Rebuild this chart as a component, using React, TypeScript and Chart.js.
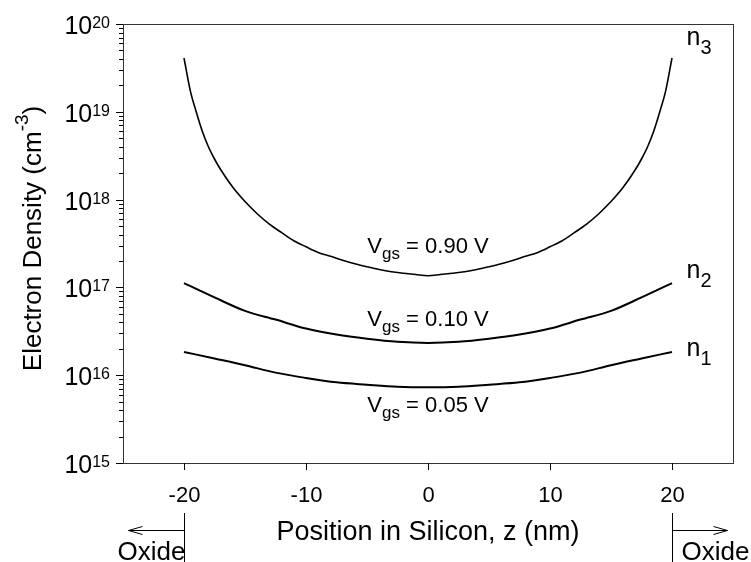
import React, { useEffect, useRef } from "react";
import { Chart, registerables } from "chart.js";

Chart.register(...registerables);

// ---- data ----
const Z_N3 = [-20, -19.5, -19, -18.5, -18, -17.5, -17, -16, -15, -14, -13, -12, -11, -10, -9, -8, -7, -6, -5, -4, -3, -2, -1, 0, 1, 2, 3, 4, 5, 6, 7, 8, 9, 10, 11, 12, 13, 14, 15, 16, 17, 17.5, 18, 18.5, 19, 19.5, 20];
const N3 = [4.1e19, 1.78e19, 1.0e19, 6.0e18, 4.0e18, 2.9e18, 2.2e18, 1.38e18, 9.5e17, 6.9e17, 5.25e17, 4.2e17, 3.4e17, 2.9e17, 2.5e17, 2.26e17, 2.04e17, 1.86e17, 1.72e17, 1.6e17, 1.51e17, 1.45e17, 1.4e17, 1.36e17, 1.4e17, 1.45e17, 1.51e17, 1.6e17, 1.72e17, 1.86e17, 2.04e17, 2.26e17, 2.5e17, 2.9e17, 3.4e17, 4.2e17, 5.25e17, 6.9e17, 9.5e17, 1.38e18, 2.2e18, 2.9e18, 4.0e18, 6.0e18, 1.0e19, 1.78e19, 4.1e19];

const Z_N = [-20, -17.5, -15, -12.5, -10, -7.5, -5, -2.5, 0, 2.5, 5, 7.5, 10, 12.5, 15, 17.5, 20];
const N2 = [1.12e17, 7.7e16, 5.4e16, 4.3e16, 3.4e16, 2.9e16, 2.6e16, 2.4e16, 2.33e16, 2.4e16, 2.6e16, 2.9e16, 3.4e16, 4.3e16, 5.4e16, 7.7e16, 1.12e17];
const N1 = [1.84e16, 1.55e16, 1.3e16, 1.07e16, 9.3e15, 8.3e15, 7.8e15, 7.4e15, 7.3e15, 7.4e15, 7.8e15, 8.3e15, 9.3e15, 1.07e16, 1.3e16, 1.55e16, 1.84e16];

const X_TICKS = [-20, -10, 0, 10, 20];
const Y_EXPONENTS = [15, 16, 17, 18, 19, 20];
const Y_MINOR_MANTISSAS = [2, 3, 4, 5, 6, 7, 8, 9];

const SERIES_NAMES = ["n1", "n2", "n3"];
const SERIES_SUBS = ["1", "2", "3"];
const VGS_VALUES = ["0.05", "0.10", "0.90"];

const X_TITLE = "Position in Silicon, z (nm)";
const Y_TITLE_MAIN = "Electron Density (cm";
const Y_TITLE_SUP = "-3";
const Y_TITLE_END = ")";
const OXIDE = "Oxide";

const FONT = "'Liberation Sans', Arial, Helvetica, sans-serif";

function font(size: number) {
  return `${size}px ${FONT}`;
}

const overlay = {
  id: "overlay",
  afterDraw(chart: any) {
    const ctx: CanvasRenderingContext2D = chart.ctx;
    const area = chart.chartArea;
    const xs = chart.scales.x;
    const ys = chart.scales.y;
    ctx.save();
    ctx.fillStyle = "#000";
    ctx.lineWidth = 1;

    // frame
    ctx.strokeStyle = "#333";
    ctx.strokeRect(Math.round(area.left) + 0.5, Math.round(area.top) + 0.5, Math.round(area.right - area.left), Math.round(area.bottom - area.top));
    ctx.strokeStyle = "#000";

    // x ticks + labels
    ctx.font = font(22);
    ctx.textAlign = "center";
    ctx.textBaseline = "middle";
    for (const t of xs.ticks) {
      const px = Math.round(xs.getPixelForValue(t.value)) + 0.5;
      ctx.beginPath();
      ctx.moveTo(px, area.bottom);
      ctx.lineTo(px, area.bottom + 7);
      ctx.stroke();
      ctx.fillText(String(t.value), px, area.bottom + 33);
    }

    // y ticks + labels
    for (const t of ys.ticks) {
      const py = Math.round(ys.getPixelForValue(t.value)) + 0.5;
      const lg = Math.log10(t.value);
      const major = Math.abs(lg - Math.round(lg)) < 1e-9;
      ctx.beginPath();
      ctx.moveTo(area.left, py);
      ctx.lineTo(area.left - (major ? 7 : 4), py);
      ctx.stroke();
      if (major) {
        const exp = String(Math.round(lg));
        ctx.font = font(16);
        const ws = ctx.measureText(exp).width;
        ctx.font = font(25);
        const wb = ctx.measureText("10").width;
        const right = area.left - 13;
        ctx.textAlign = "left";
        ctx.textBaseline = "alphabetic";
        ctx.fillText("10", right - ws - wb, py + 9);
        ctx.font = font(16);
        ctx.fillText(exp, right - ws, py + 3);
      }
    }

    // x title
    ctx.font = font(27);
    ctx.textAlign = "center";
    ctx.textBaseline = "alphabetic";
    const cx = (area.left + area.right) / 2;
    ctx.fillText(X_TITLE, cx, 540);

    // y title (rotated)
    ctx.save();
    ctx.translate(31, (area.top + area.bottom) / 2 - 5);
    ctx.rotate(-Math.PI / 2);
    ctx.font = font(26);
    const w1 = ctx.measureText(Y_TITLE_MAIN).width;
    const w3 = ctx.measureText(Y_TITLE_END).width;
    ctx.font = font(19);
    const w2 = ctx.measureText(Y_TITLE_SUP).width;
    const total = w1 + w2 + w3;
    const x0 = -total / 2;
    ctx.textAlign = "left";
    ctx.textBaseline = "alphabetic";
    ctx.font = font(26);
    ctx.fillText(Y_TITLE_MAIN, x0, 10);
    ctx.font = font(19);
    ctx.fillText(Y_TITLE_SUP, x0 + w1, -3);
    ctx.font = font(26);
    ctx.fillText(Y_TITLE_END, x0 + w1 + w2, 10);
    ctx.restore();

    // oxide markers
    const xl = Math.round(xs.getPixelForValue(X_TICKS[0])) + 0.5;
    const xr = Math.round(xs.getPixelForValue(X_TICKS[X_TICKS.length - 1])) + 0.5;
    const ay = 530.5;
    ctx.beginPath();
    ctx.moveTo(xl, 513);
    ctx.lineTo(xl, 562);
    ctx.moveTo(xl, ay);
    ctx.lineTo(xl - 56, ay);
    ctx.moveTo(xl - 42, ay - 4);
    ctx.lineTo(xl - 56, ay);
    ctx.lineTo(xl - 42, ay + 4);
    ctx.moveTo(xr, 513);
    ctx.lineTo(xr, 562);
    ctx.moveTo(xr, ay);
    ctx.lineTo(xr + 55, ay);
    ctx.moveTo(xr + 41, ay - 4);
    ctx.lineTo(xr + 55, ay);
    ctx.lineTo(xr + 41, ay + 4);
    ctx.stroke();
    ctx.font = font(26);
    ctx.textBaseline = "alphabetic";
    ctx.textAlign = "right";
    ctx.fillText(OXIDE, xl + 1, 560);
    ctx.textAlign = "left";
    ctx.fillText(OXIDE, xr + 9, 560);

    // curve labels n1..n3 near right ends
    const ends = [N1[N1.length - 1], N2[N2.length - 1], N3[N3.length - 1]];
    const nOffsets = [4, -5, -13];
    for (let i = 0; i < 3; i++) {
      const py = ys.getPixelForValue(ends[i]);
      const x = xr + 14;
      ctx.font = font(25);
      ctx.textAlign = "left";
      ctx.fillText("n", x, py + nOffsets[i]);
      const wn = ctx.measureText("n").width;
      ctx.font = font(20);
      ctx.fillText(SERIES_SUBS[i], x + wn, py + nOffsets[i] + 9);
    }

    // Vgs labels
    const mins = [Math.min(...N1), Math.min(...N2), Math.min(...N3)];
    const vOffsets = [25, -17, -23];
    for (let i = 0; i < 3; i++) {
      const py = ys.getPixelForValue(mins[i]) + vOffsets[i];
      ctx.font = font(22);
      const wV = ctx.measureText("V").width;
      const rest = " = " + VGS_VALUES[i] + " V";
      const wR = ctx.measureText(rest).width;
      ctx.font = font(17);
      const wS = ctx.measureText("gs").width;
      const tot = wV + wS + wR;
      const x = cx - tot / 2;
      ctx.textAlign = "left";
      ctx.font = font(22);
      ctx.fillText("V", x, py);
      ctx.font = font(17);
      ctx.fillText("gs", x + wV, py + 6);
      ctx.font = font(22);
      ctx.fillText(rest, x + wV + wS, py);
    }

    ctx.restore();
  },
};

export default function App() {
  const ref = useRef<HTMLCanvasElement | null>(null);
  useEffect(() => {
    document.body.style.margin = "0";
    const canvas = ref.current;
    if (!canvas) return;
    const mk = (xs: number[], ys: number[], width: number) => ({
      data: xs.map((x, i) => ({ x, y: ys[i] })),
      borderColor: "#000",
      borderWidth: width,
      pointRadius: 0,
      fill: false,
      cubicInterpolationMode: "monotone" as const,
    });
    const chart = new Chart(canvas, {
      type: "line",
      data: {
        datasets: [
          { label: SERIES_NAMES[0], ...mk(Z_N, N1, 2) },
          { label: SERIES_NAMES[1], ...mk(Z_N, N2, 2) },
          { label: SERIES_NAMES[2], ...mk(Z_N3, N3, 1.6) },
        ],
      },
      options: {
        animation: false,
        responsive: true,
        maintainAspectRatio: false,
        layout: { padding: { top: 24, right: 18, left: 0, bottom: 0 } },
        plugins: { legend: { display: false }, tooltip: { enabled: false } },
        scales: {
          x: {
            type: "linear",
            min: -25,
            max: 25,
            grid: { display: false },
            border: { display: false },
            ticks: { display: false },
            afterBuildTicks: (s: any) => {
              s.ticks = X_TICKS.map((v) => ({ value: v }));
            },
            afterFit: (s: any) => {
              s.height = 99;
            },
          },
          y: {
            type: "logarithmic",
            min: 1e15,
            max: 1e20,
            grid: { display: false },
            border: { display: false },
            ticks: { display: false },
            afterBuildTicks: (s: any) => {
              const t: any[] = [];
              for (const e of Y_EXPONENTS) {
                t.push({ value: Math.pow(10, e) });
                if (e < Y_EXPONENTS[Y_EXPONENTS.length - 1]) {
                  for (const m of Y_MINOR_MANTISSAS) t.push({ value: m * Math.pow(10, e) });
                }
              }
              s.ticks = t;
            },
            afterFit: (s: any) => {
              s.width = 123;
            },
          },
        },
      },
      plugins: [overlay],
    });
    return () => chart.destroy();
  }, []);
  return (
    <div style={{ position: "absolute", left: 0, top: 0, width: 751, height: 562, background: "#fff" }}>
      <canvas ref={ref} />
    </div>
  );
}
